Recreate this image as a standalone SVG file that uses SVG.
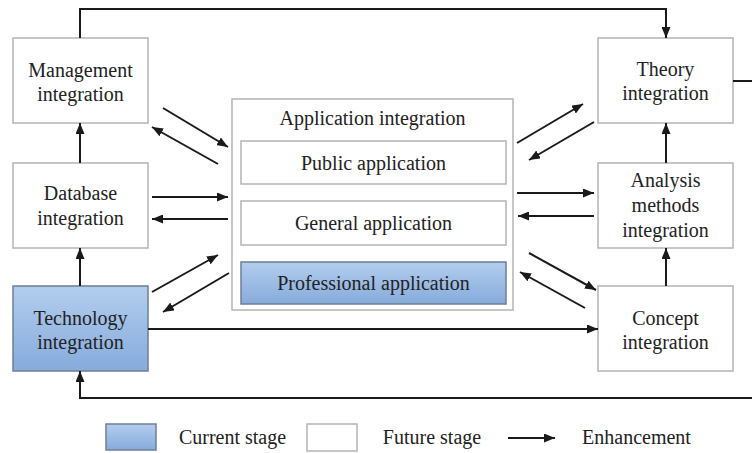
<svg xmlns="http://www.w3.org/2000/svg" width="752" height="453" viewBox="0 0 752 453">
<defs>
<linearGradient id="blue" x1="0" y1="0" x2="0" y2="1">
<stop offset="0" stop-color="#b3cdee"/>
<stop offset="1" stop-color="#86abdb"/>
</linearGradient>
<marker id="ah" markerUnits="userSpaceOnUse" markerWidth="11" markerHeight="9" refX="11" refY="4.5" orient="auto">
<path d="M0,0 L11,4.5 L0,9 z" fill="#1a1a1a"/>
</marker>
<style>
.box{fill:#fff;stroke:#b4b4b4;stroke-width:1.5}
.cur{fill:url(#blue);stroke:#6f7f96;stroke-width:1.5}
text{font-family:"Liberation Serif","Times New Roman",serif;font-size:20px;fill:#222;text-anchor:middle}
.c line,.c polyline{stroke:#1a1a1a;stroke-width:2;fill:none}
.a{marker-end:url(#ah)}
</style>
</defs>
<rect width="752" height="453" fill="#fff"/>
<g id="management">
<rect class="box" x="13" y="38" width="135" height="85"/>
<text x="80.5" y="77">Management</text>
<text x="80.5" y="101">integration</text>
</g>
<g id="database">
<rect class="box" x="13" y="163" width="135" height="85"/>
<text x="80.5" y="200">Database</text>
<text x="80.5" y="225">integration</text>
</g>
<g id="technology">
<rect class="cur" x="13" y="286" width="135" height="85"/>
<text x="80.5" y="325">Technology</text>
<text x="80.5" y="349">integration</text>
</g>
<g id="application">
<rect class="box" x="232" y="99" width="281" height="211"/>
<text x="372.5" y="125">Application integration</text>
</g>
<g id="public">
<rect class="box" x="241" y="141" width="265" height="43"/>
<text x="373.5" y="170">Public application</text>
</g>
<g id="general">
<rect class="box" x="241" y="201" width="265" height="44"/>
<text x="373.5" y="230">General application</text>
</g>
<g id="professional">
<rect class="cur" x="241" y="262" width="265" height="42"/>
<text x="373.5" y="290">Professional application</text>
</g>
<g id="theory">
<rect class="box" x="598" y="38" width="135" height="85"/>
<text x="665.5" y="76">Theory</text>
<text x="665.5" y="100">integration</text>
</g>
<g id="analysis">
<rect class="box" x="598" y="163" width="135" height="85"/>
<text x="665.5" y="187">Analysis</text>
<text x="665.5" y="212">methods</text>
<text x="665.5" y="237">integration</text>
</g>
<g id="concept">
<rect class="box" x="598" y="286" width="135" height="85"/>
<text x="665.5" y="325">Concept</text>
<text x="665.5" y="349">integration</text>
</g>
<g id="connectors" class="c">
<polyline class="a" points="80,38 80,9 666,9 666,38"/>
<line class="a" x1="80" y1="163" x2="80" y2="123"/>
<line class="a" x1="80" y1="286" x2="80" y2="248"/>
<polyline class="a" points="752,398 80,398 80,371"/>
<line x1="733" y1="81" x2="752" y2="81"/>
<line class="a" x1="148" y1="329" x2="598" y2="329"/>
<line class="a" x1="666" y1="286" x2="666" y2="248"/>
<line class="a" x1="666" y1="163" x2="666" y2="123"/>
<line class="a" x1="163" y1="108" x2="228" y2="147"/>
<line class="a" x1="218" y1="164" x2="152" y2="127"/>
<line class="a" x1="152" y1="197" x2="228" y2="197"/>
<line class="a" x1="228" y1="219" x2="152" y2="219"/>
<line class="a" x1="152" y1="292" x2="218" y2="255"/>
<line class="a" x1="229" y1="273" x2="163" y2="312"/>
<line class="a" x1="517" y1="143" x2="583" y2="104"/>
<line class="a" x1="594" y1="122" x2="529" y2="160"/>
<line class="a" x1="517" y1="193" x2="594" y2="193"/>
<line class="a" x1="594" y1="216" x2="518" y2="216"/>
<line class="a" x1="529" y1="253" x2="596" y2="290"/>
<line class="a" x1="585" y1="308" x2="520" y2="272"/>
</g>
<g id="legend">
<rect class="cur" x="106" y="424" width="50" height="26"/>
<text x="232.5" y="444">Current stage</text>
<rect class="box" x="307" y="424" width="50" height="27"/>
<text x="432" y="444">Future stage</text>
<line x1="508" y1="438" x2="555" y2="438" stroke="#1a1a1a" stroke-width="2" marker-end="url(#ah)"/>
<text x="636.5" y="444">Enhancement</text>
</g>
</svg>
